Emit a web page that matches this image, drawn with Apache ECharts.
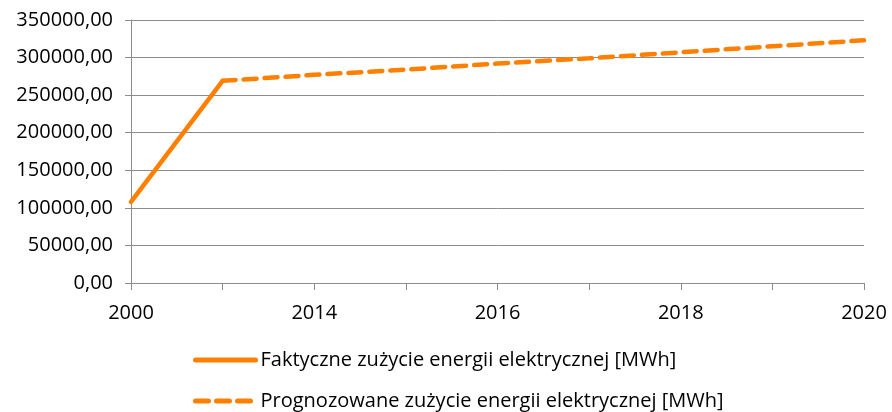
<!DOCTYPE html>
<html>
<head>
<meta charset="utf-8">
<script src="https://cdn.jsdelivr.net/npm/echarts@6/dist/echarts.min.js"></script>
<style>
  html, body { margin: 0; padding: 0; background: #fff; }
  #chart { width: 892px; height: 412px; }
</style>
</head>
<body>
<div id="chart"></div>
<script>
// categories (labels shown every other tick)
const years = ['2000', '2013', '2014', '2015', '2016', '2017', '2018', '2019', '2020']
// actual consumption, MWh
const actual = [108000, 269000, null, null, null, null, null, null, null]
// forecast consumption, MWh
const forecast = [null, 269000, 277000, 284000, 292000, 299000, 307000, 315000, 323000]

const seriesNames = [
  'Faktyczne zużycie energii elektrycznej [MWh]',
  'Prognozowane zużycie energii elektrycznej [MWh]'
]

const orange = '#ff8000'
const gridColor = '#8c8c8c'
const font = '"Open Sans", sans-serif'

const chart = echarts.init(document.getElementById('chart'))

const options = {
  animation: false,
  textStyle: { fontFamily: font },
  grid: {
    left: 131,
    right: 28,
    top: 20,
    bottom: 129,
    containLabel: false
  },
  xAxis: {
    type: 'category',
    data: years,
    boundaryGap: false,
    axisLine: { lineStyle: { color: gridColor, width: 1 } },
    axisTick: {
      show: true,
      interval: 0,
      length: 7,
      lineStyle: { color: gridColor }
    },
    axisLabel: {
      interval: (index) => index % 2 === 0,
      color: '#000',
      fontSize: 20,
      fontFamily: font,
      margin: 20
    },
    splitLine: { show: false }
  },
  yAxis: {
    type: 'value',
    min: 0,
    max: 350000,
    interval: 50000,
    axisLine: { show: true, lineStyle: { color: gridColor, width: 1 } },
    axisTick: { show: true, length: 6, lineStyle: { color: gridColor } },
    axisLabel: {
      color: '#000',
      fontSize: 20,
      fontFamily: font,
      margin: 18,
      formatter: (v) => v.toFixed(2).replace('.', ',')
    },
    splitLine: { lineStyle: { color: gridColor, width: 1 } }
  },
  legend: {
    orient: 'vertical',
    left: 188,
    top: 345,
    height: 90,
    itemWidth: 60,
    itemHeight: 14,
    itemGap: 21,
    itemStyle: { opacity: 0 },
    lineStyle: { width: 5 },
    textStyle: { color: '#000', fontSize: 20, fontFamily: font },
    data: seriesNames
  },
  series: [
    {
      name: seriesNames[0],
      type: 'line',
      data: actual,
      symbol: 'none',
      color: orange,
      lineStyle: { color: orange, width: 4.5, cap: 'round' }
    },
    {
      name: seriesNames[1],
      type: 'line',
      data: forecast,
      symbol: 'none',
      color: orange,
      lineStyle: { color: orange, width: 4.5, type: [13, 8], cap: 'round' }
    }
  ]
}

chart.setOption(options)
</script>
</body>
</html>
